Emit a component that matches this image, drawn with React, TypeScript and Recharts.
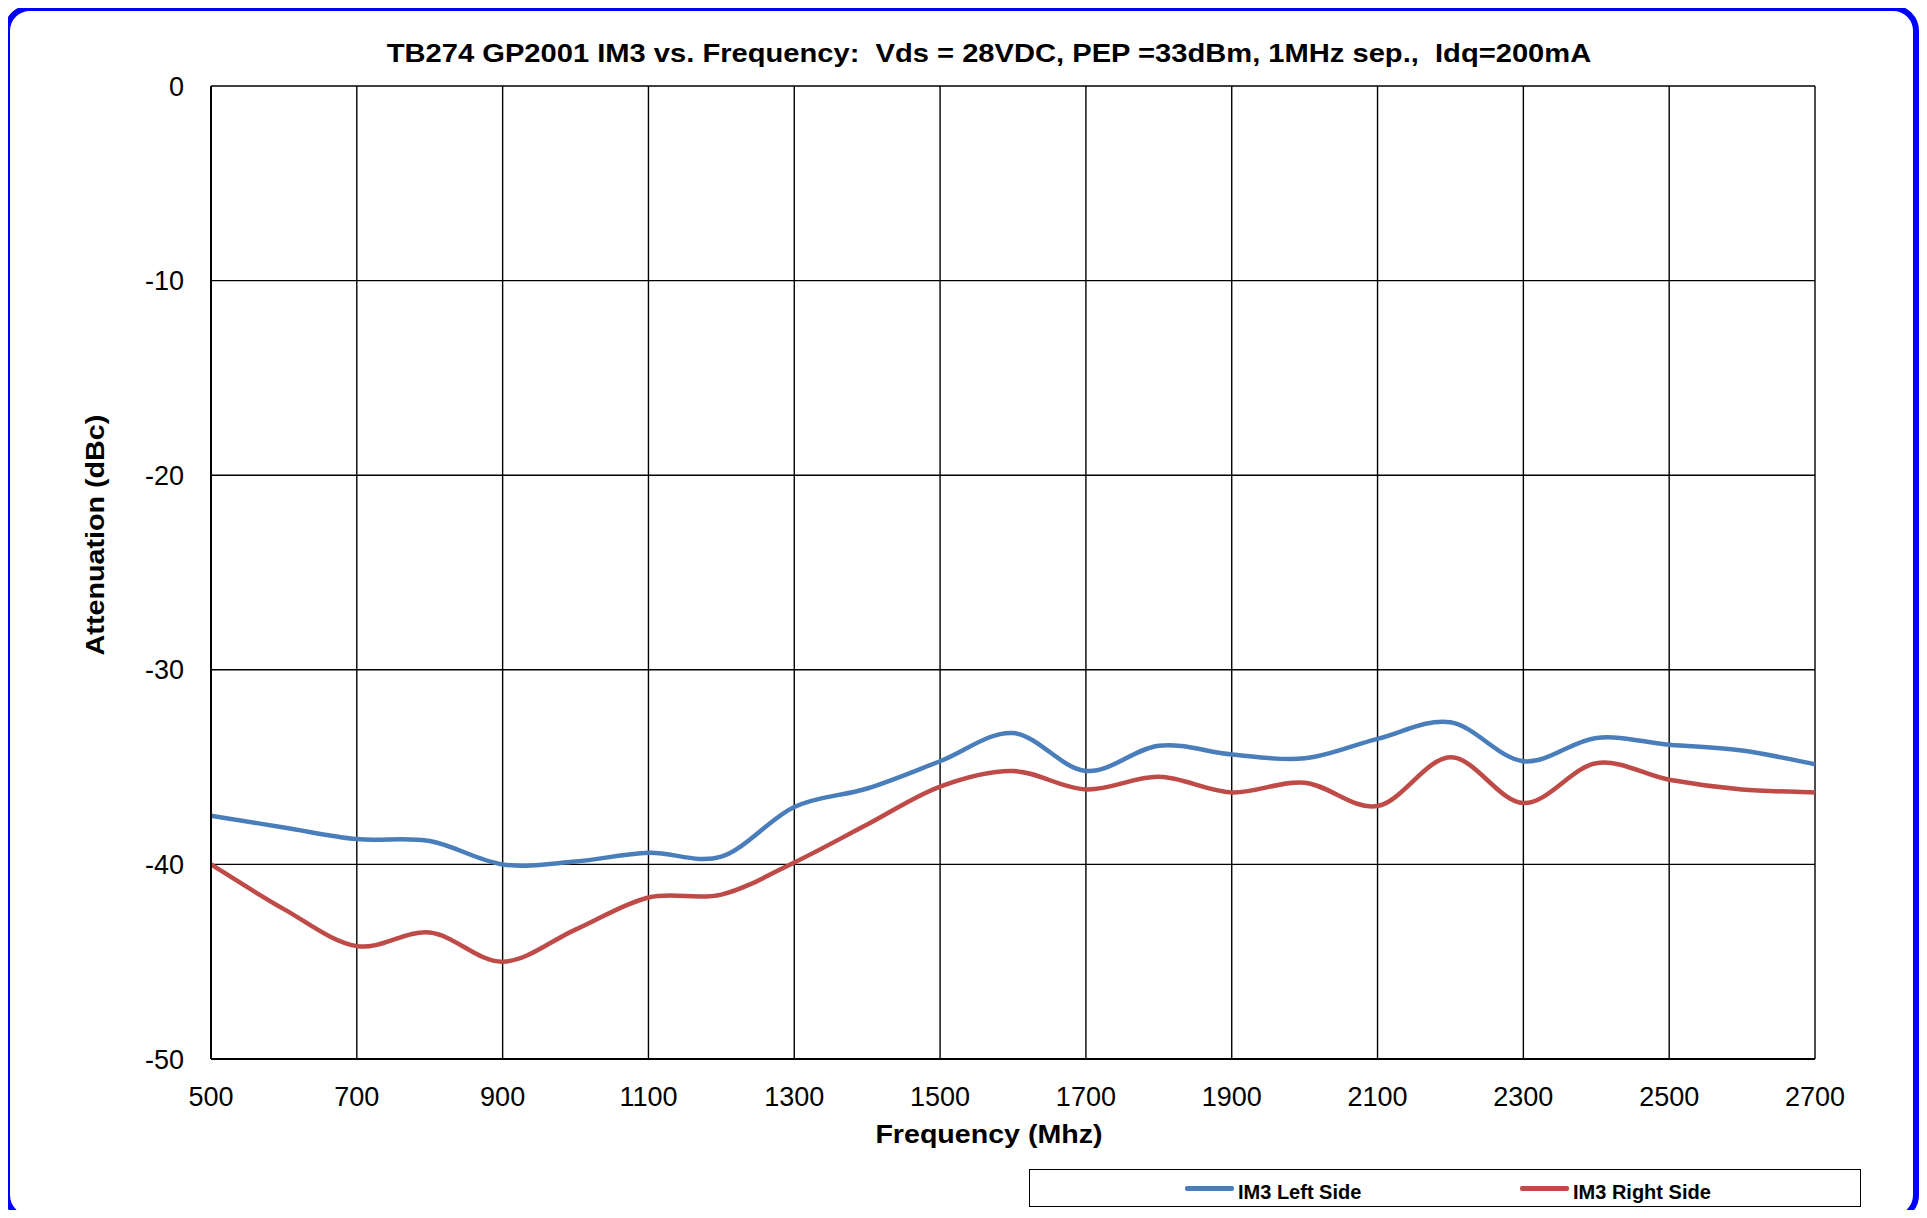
import React from 'react';
import { LineChart, Line, XAxis, YAxis, CartesianGrid } from 'recharts';

const freqs = [500, 600, 700, 800, 900, 1000, 1100, 1200, 1300, 1400, 1500, 1600, 1700, 1800, 1900, 2000, 2100, 2200, 2300, 2400, 2500, 2600, 2700];
const im3Left = [-37.5, -38.1, -38.7, -38.8, -40.0, -39.85, -39.4, -39.6, -37.05, -36.1, -34.7, -33.25, -35.2, -33.9, -34.35, -34.55, -33.55, -32.7, -34.7, -33.5, -33.85, -34.15, -34.85];
const im3Right = [-40.0, -42.3, -44.2, -43.5, -45.0, -43.35, -41.7, -41.55, -39.9, -37.95, -36.0, -35.2, -36.15, -35.5, -36.3, -35.8, -37.0, -34.5, -36.85, -34.8, -35.65, -36.15, -36.3];
const xTicks = [500, 700, 900, 1100, 1300, 1500, 1700, 1900, 2100, 2300, 2500, 2700];
const yTicks = [-50, -40, -30, -20, -10, 0];

const title = 'TB274 GP2001 IM3 vs. Frequency:  Vds = 28VDC, PEP =33dBm, 1MHz sep.,  Idq=200mA';
const xTitle = 'Frequency (Mhz)';
const yTitle = 'Attenuation (dBc)';
const leftName = 'IM3 Left Side';
const rightName = 'IM3 Right Side';

const BLUE = '#4A7EBB';
const RED = '#BE4B48';
const FONT = '"Liberation Sans", Arial, sans-serif';

const data = freqs.map((f, i) => ({ f, left: im3Left[i], right: im3Right[i] }));

// Catmull-Rom style smoothing (like Excel's smoothed lines)
function smoothCurve(context: any) {
  let pts: [number, number][] = [];
  return {
    areaStart() {},
    areaEnd() {},
    lineStart() { pts = []; },
    point(x: number, y: number) { pts.push([+x, +y]); },
    lineEnd() {
      const n = pts.length;
      if (!n) return;
      context.moveTo(pts[0][0], pts[0][1]);
      if (n === 1) return;
      for (let i = 0; i < n - 1; i++) {
        const p0 = pts[Math.max(0, i - 1)];
        const p1 = pts[i];
        const p2 = pts[i + 1];
        const p3 = pts[Math.min(n - 1, i + 2)];
        const c1x = p1[0] + (p2[0] - p0[0]) / 6;
        const c1y = p1[1] + (p2[1] - p0[1]) / 6;
        const c2x = p2[0] - (p3[0] - p1[0]) / 6;
        const c2y = p2[1] - (p3[1] - p1[1]) / 6;
        context.bezierCurveTo(c1x, c1y, c2x, c2y, p2[0], p2[1]);
      }
    },
  };
}

const XLabel = () => (
  <text x={0} y={0} transform="translate(989 1143) scale(1.1 1)" textAnchor="middle" fontFamily={FONT} fontWeight="bold" fontSize={26} fill="#000">
    {xTitle}
  </text>
);

const YLabel = () => (
  <text x={0} y={0} transform="translate(104 535) rotate(-90) scale(1.105 1)" textAnchor="middle" fontFamily={FONT} fontWeight="bold" fontSize={26} fill="#000">
    {yTitle}
  </text>
);

export default function App() {
  return (
    <div style={{ position: 'relative', margin: -8, width: 1927, height: 1218, background: '#fff', overflow: 'hidden', fontFamily: FONT }}>
      <div style={{ position: 'absolute', left: 4, top: 5, width: 1915, height: 1216, boxSizing: 'border-box', border: '6px solid #0000FF', borderRadius: 26 }} />
      <div style={{ position: 'absolute', left: 0, top: 38, width: 1978, textAlign: 'center', fontSize: 26, fontWeight: 'bold', color: '#000', whiteSpace: 'pre', lineHeight: '30px', transform: 'scaleX(1.12)', transformOrigin: '989px 50%' }}>
        {title}
      </div>
      <div style={{ position: 'absolute', left: 0, top: 0 }}>
        <LineChart width={1927} height={1218} data={data} margin={{ top: 86, right: 112, left: 111, bottom: 99 }}>
          <CartesianGrid stroke="#000" strokeWidth={1.4} />
          <XAxis
            dataKey="f"
            type="number"
            domain={[500, 2700]}
            ticks={xTicks}
            tickSize={0}
            tickMargin={28}
            height={60}
            axisLine={{ stroke: '#000', strokeWidth: 2 }}
            tick={{ fill: '#000', fontSize: 27, fontFamily: FONT }}
            label={<XLabel />}
          />
          <YAxis
            type="number"
            domain={[-50, 0]}
            ticks={yTicks}
            tickSize={0}
            tickMargin={27}
            width={100}
            axisLine={{ stroke: '#000', strokeWidth: 2 }}
            tick={{ fill: '#000', fontSize: 27, fontFamily: FONT }}
            label={<YLabel />}
          />
          <Line dataKey="left" name={leftName} stroke={BLUE} strokeWidth={4.5} dot={false} type={smoothCurve as any} isAnimationActive={false} />
          <Line dataKey="right" name={rightName} stroke={RED} strokeWidth={4.5} dot={false} type={smoothCurve as any} isAnimationActive={false} />
        </LineChart>
      </div>
      <div style={{ position: 'absolute', left: 1029, top: 1169, width: 832, height: 38, boxSizing: 'border-box', border: '1.5px solid #000', background: '#fff' }}>
        <div style={{ position: 'absolute', left: 155, top: 16, width: 49, height: 5, background: BLUE, borderRadius: 2 }} />
        <div style={{ position: 'absolute', left: 208, top: 9, fontSize: 20, fontWeight: 'bold', lineHeight: '26px', color: '#000' }}>{leftName}</div>
        <div style={{ position: 'absolute', left: 490, top: 16, width: 49, height: 5, background: RED, borderRadius: 2 }} />
        <div style={{ position: 'absolute', left: 543, top: 9, fontSize: 20, fontWeight: 'bold', lineHeight: '26px', color: '#000' }}>{rightName}</div>
      </div>
    </div>
  );
}
